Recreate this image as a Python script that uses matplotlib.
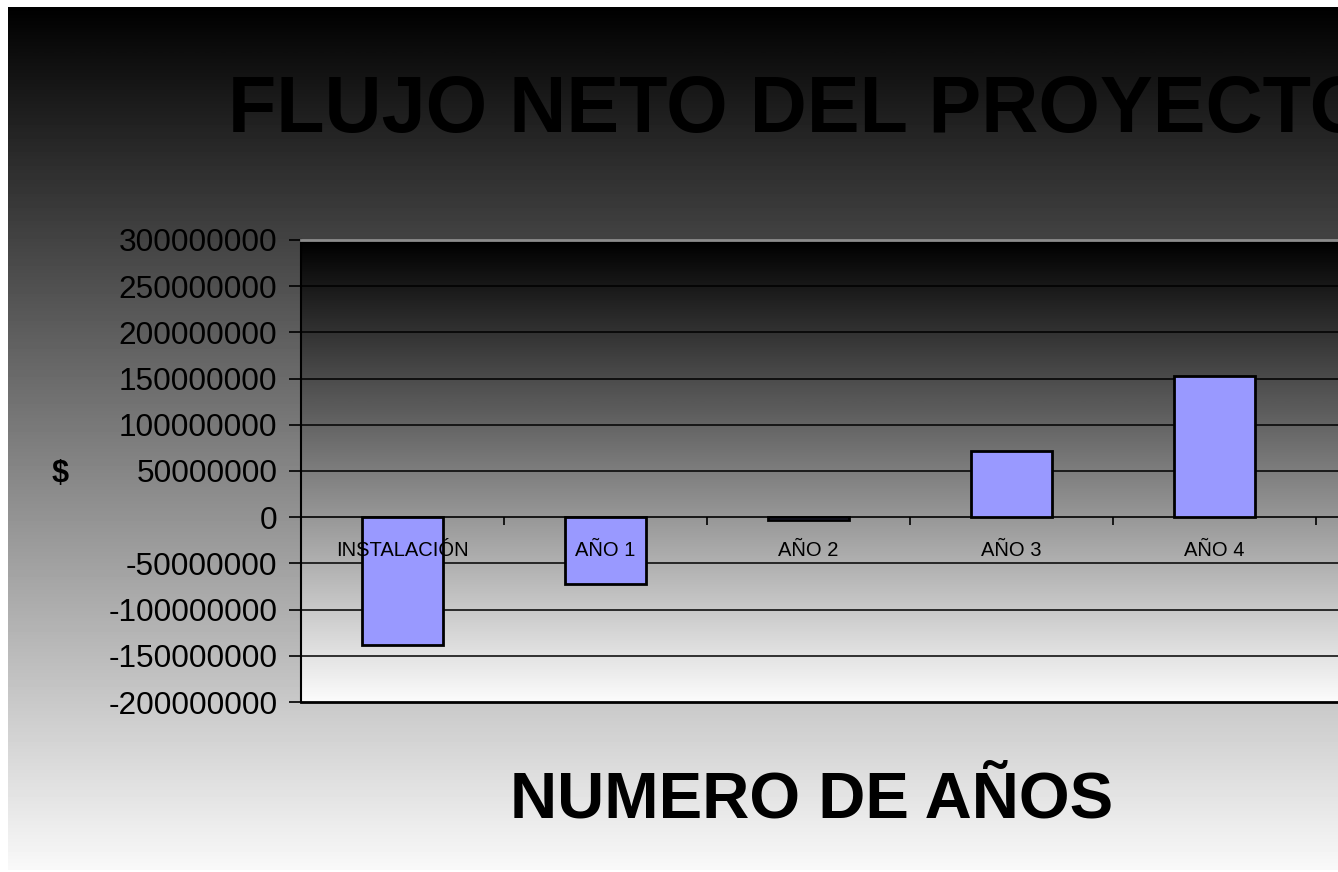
import numpy as np
import matplotlib
matplotlib.use("Agg")
import matplotlib.pyplot as plt
from matplotlib.ticker import FixedLocator

# Chart data
categories = ["INSTALACIÓN", "AÑO 1", "AÑO 2", "AÑO 3", "AÑO 4"]
flujo_neto = [-138000000, -72500000, -2500000, 71500000, 152500000]
y_ticks = [-200000000, -150000000, -100000000, -50000000, 0,
           50000000, 100000000, 150000000, 200000000, 250000000, 300000000]

title_text = "FLUJO NETO DEL PROYECTO"
xlabel_text = "NUMERO DE AÑOS"
ylabel_text = "$"

W, H = 1338, 872
plt.rcParams['font.family'] = ['Liberation Sans', 'DejaVu Sans']


def gradient(n=256, top=0.0, bottom=1.0):
    """Vertical grey ramp, first row is the top."""
    return np.linspace(top, bottom, n).reshape(-1, 1)


fig = plt.figure(figsize=(W / 100, H / 100), dpi=100)
fig.patch.set_facecolor("white")

# Figure background: black at the top fading to near white
bg = fig.add_axes([8 / W, 2 / H, 1 - 8 / W, 863 / H])
bg.imshow(gradient(top=0.0, bottom=0.975), cmap="gray", vmin=0, vmax=1,
          aspect="auto", interpolation="bilinear")
bg.axis("off")

# Plot area (runs past the right edge, like the reference)
n_slots = 6
ax = fig.add_axes([301 / W, 170 / H, 203 * n_slots / W, 462 / H])
ymin, ymax = y_ticks[0], y_ticks[-1]
ax.imshow(gradient(top=0.0, bottom=0.985), cmap="gray", vmin=0, vmax=1,
          aspect="auto", interpolation="bilinear",
          extent=[-0.5, n_slots - 0.5, ymin, ymax], zorder=0)
ax.set_xlim(-0.5, n_slots - 0.5)
ax.set_ylim(ymin, ymax)

# Gridlines
for t in y_ticks[1:]:
    if t != 0:
        ax.axhline(t, color="black", lw=1.1, zorder=1)

x = np.arange(len(categories))
ax.bar(x, flujo_neto, width=0.40, color="#9999FF", edgecolor="black",
       linewidth=2, zorder=3)

# Axes / spines
ax.spines["bottom"].set_position(("data", 0))
ax.spines["bottom"].set_color("black")
ax.spines["bottom"].set_linewidth(1.2)
ax.spines["left"].set_color("black")
ax.spines["left"].set_linewidth(1.5)
ax.spines["top"].set_color("#8c8c8c")
ax.spines["top"].set_linewidth(2)
ax.spines["right"].set_visible(False)
ax.axhline(ymin, color="black", lw=2, zorder=4, clip_on=False)

ax.set_yticks(y_ticks)
ax.set_yticklabels([str(v) for v in y_ticks], fontsize=22.7)
ax.tick_params(axis="y", length=9, width=1.2, pad=8, colors="black")

ax.set_xticks(x)
ax.set_xticklabels(categories, fontsize=14.5)
ax.tick_params(axis="x", which="major", length=0, pad=17)
ax.xaxis.set_minor_locator(FixedLocator(np.arange(0.5, n_slots, 1.0)))
ax.tick_params(axis="x", which="minor", length=6, width=1.2, direction="out",
               colors="black")
# category labels sit on top of the bars
ax.xaxis.set_zorder(5)

# Texts
fig.text(228 / W, 1 - 132 / H, title_text, fontsize=57, fontweight="bold",
         ha="left", va="baseline", color="black")
fig.text(812 / W, 1 - 817 / H, xlabel_text, fontsize=47, fontweight="bold",
         ha="center", va="baseline", color="black")
fig.text(60 / W, 1 - 474 / H, ylabel_text, fontsize=22, fontweight="bold",
         ha="center", va="center", color="black")

fig.savefig("out.png", dpi=100)
